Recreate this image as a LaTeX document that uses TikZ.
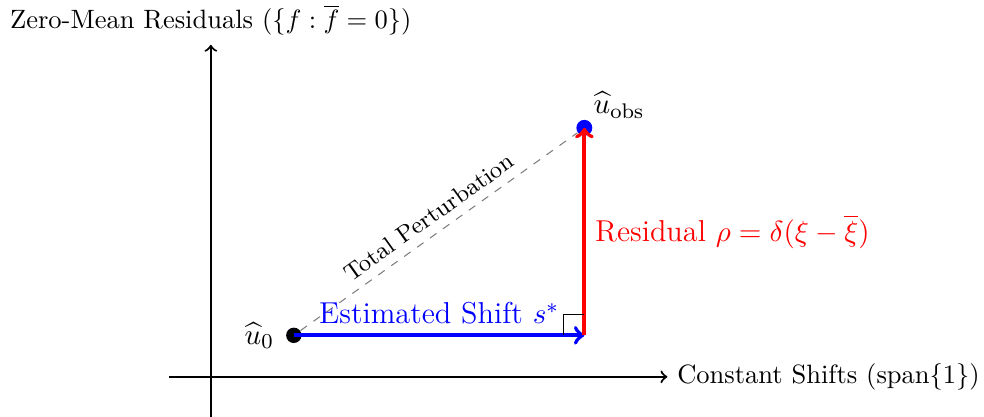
\documentclass[tikz,border=0pt]{standalone}
\usepackage{amsmath}
\usepackage{amssymb}
\usepackage{tikz}

\newcommand{\lbsize}{\fontsize{11.4}{14}\selectfont}

\begin{document}
\begin{tikzpicture}[scale=0.55]
                        \useasboundingbox (-5.08,-0.96) rectangle (18.63,9.08);
                        % Axes
                        \coordinate (xmin) at (-1,0);
                        \coordinate (xmax) at (11,0);
                        \coordinate (ymin) at (0,-1);
                        \coordinate (ymax) at (0,8);
                        \draw[->, thick] (xmin) -- (xmax) node[right] {Constant Shifts (span$\{1\}$)};
                        \draw[->, thick] (ymin) -- (ymax) node[above] {Zero-Mean Residuals ($\{f : \overline{f} = 0\}$)};

                        % Nodes
                        \node[circle, fill=black, inner sep=0pt, minimum size=5.8pt] (u0) at (2,1) {};
                        \node[circle, fill=blue, inner sep=0pt, minimum size=6pt] (uobs) at (9,6) {};
                        \coordinate (corner) at (9,1);
                        \node[left=4pt] (u0lab) at (u0) {\lbsize $\widehat{u}_0$};
                        \node[above right=0pt] (uobslab) at (uobs) {\lbsize $\widehat{u}_{\text{obs}}$};

                        % Edges
                        \draw[dashed, gray] (u0) -- (uobs) node[midway, above, sloped, black] {\small Total Perturbation};
                        \draw[->, line width=1.5pt, blue] (u0.center) -- (corner) node[midway, above] {\lbsize Estimated Shift $s^*$};
                        \draw[->, line width=1.5pt, red] (corner) -- (uobs.center) node[midway, right] {\lbsize Residual $\rho = \delta(\xi - \overline{\xi})$};

                        % right angle
                        \draw[thin] (corner) ++(-0.5,0) -- ++(0,0.5) -- ++(0.5,0);
                    \end{tikzpicture}
\end{document}
